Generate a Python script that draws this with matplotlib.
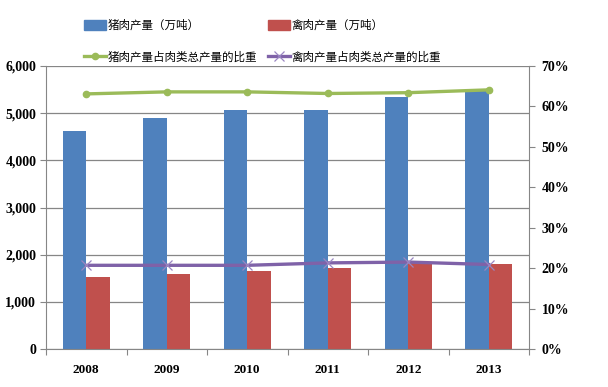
import matplotlib
matplotlib.use("Agg")
import matplotlib.pyplot as plt
import numpy as np
from matplotlib.lines import Line2D
from matplotlib.patches import Patch

years = ["2008", "2009", "2010", "2011", "2012", "2013"]
pork = [4620, 4890, 5071, 5060, 5343, 5493]
poultry = [1534, 1595, 1656, 1709, 1823, 1798]
pork_share = [63.1, 63.6, 63.6, 63.2, 63.4, 64.1]
poultry_share = [20.7, 20.7, 20.7, 21.3, 21.5, 20.9]
left_ticks = [0, 1000, 2000, 3000, 4000, 5000, 6000]
right_ticks = [0, 10, 20, 30, 40, 50, 60, 70]

blue = "#4F81BD"
red = "#C0504D"
green = "#9BBB59"
purple = "#7F62A8"
purple_m = "#9A86C2"
grid_c = "#868686"

cjk = ["Noto Sans CJK SC", "DejaVu Sans"]
serif = "Liberation Serif"

fig = plt.figure(figsize=(6.08, 3.87), dpi=100)
ax = fig.add_axes([46/608, 1-349/387, (529-46)/608, (349-66)/387])
x = np.arange(len(years))
w = 0.29
ax.bar(x - w/2, pork, w, color=blue, zorder=2)
ax.bar(x + w/2, poultry, w, color=red, zorder=2)
ax.set_xlim(-0.5, len(years) - 0.5)
ax.set_ylim(0, 6000)
ax.set_yticks(left_ticks)
ax.set_yticklabels([f"{v:,}" for v in left_ticks], fontfamily=serif, fontweight="bold", fontsize=10)
ax.yaxis.grid(True, color=grid_c, linewidth=0.9, zorder=0)
ax.set_axisbelow(True)
ax.set_xticks(np.arange(len(years) + 1) - 0.5)
ax.set_xticklabels([])
ax.set_xticks(x, minor=True)
ax.set_xticklabels(years, minor=True, fontfamily=serif, fontweight="bold", fontsize=9.5)
ax.tick_params(axis="x", which="minor", length=0, pad=11)
ax.tick_params(axis="x", which="major", length=4, color=grid_c)
ax.tick_params(axis="y", length=4, color=grid_c, pad=3)
for s in ["top", "right"]:
    ax.spines[s].set_visible(False)
for s in ["left", "bottom"]:
    ax.spines[s].set_color(grid_c)

ax2 = ax.twinx()
ax2.set_ylim(0, 70)
ax2.set_yticks(right_ticks)
ax2.set_yticklabels([f"{v}%" for v in right_ticks], fontfamily=serif, fontweight="bold", fontsize=10)
ax2.tick_params(axis="y", length=4, color=grid_c, pad=5)
for s in ["top", "left", "bottom"]:
    ax2.spines[s].set_visible(False)
ax2.spines["right"].set_color(grid_c)
ax2.plot(x, pork_share, color=green, linewidth=2.4, marker="o", markersize=4.5, zorder=3)
ax2.plot(x, poultry_share, color=purple, linewidth=2.4, marker="x", markersize=7,
         markeredgewidth=0.9, markeredgecolor=purple_m, zorder=3)

handles = [Patch(color=blue),
           Line2D([], [], color=green, linewidth=2.4, marker="o", markersize=4.5),
           Patch(color=red),
           Line2D([], [], color=purple, linewidth=2.4, marker="x", markersize=7,
                  markeredgewidth=0.9, markeredgecolor=purple_m)]
labels = ["猪肉产量（万吨）", "猪肉产量占肉类总产量的比重", "禽肉产量（万吨）", "禽肉产量占肉类总产量的比重"]
fig.legend(handles, labels, ncol=2, loc="upper left", bbox_to_anchor=(79/608, 1-14/387),
           frameon=False, prop={"family": cjk, "size": 8.3}, handlelength=1.95,
           handletextpad=0.15, columnspacing=0.9, labelspacing=1.62, handleheight=1.0,
           borderaxespad=0)

fig.savefig("out.png", dpi=100, facecolor="white")
